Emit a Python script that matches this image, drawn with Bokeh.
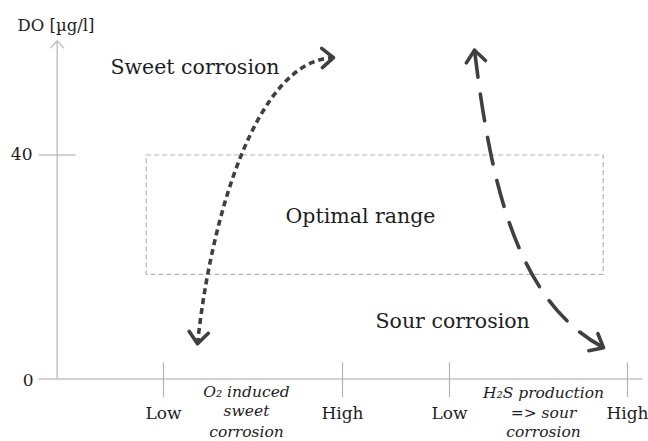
import math
from bokeh.plotting import figure
from bokeh.models import Range1d
from bokeh.core.properties import value
from bokeh.embed import file_html
from bokeh.resources import INLINE

# ---------------- data (diagram units: x = horizontal diagram units, y = DO in µg/l) ----------------
y_title = "DO [µg/l]"
y_ticks = [0, 40]
y_tick_labels = ["0", "40"]
y_axis_top = 60.4

x_ticks = [163, 342, 449, 627]
x_tick_labels = ["Low", "High", "Low", "High"]
x_axis_start = 38
x_axis_end = 642
y_axis_x = 56.7

optimal_x = [145.7, 602.7]
optimal_do = [18.7, 40]
optimal_label = "Optimal range"

# cubic Bezier curves: start, control 1, control 2, end
sweet_x = [197, 210, 255, 333]
sweet_do = [6.3, 28.3, 56.9, 57.4]
sweet_label = "Sweet corrosion"

sour_x = [474, 490, 515, 603]
sour_do = [58.7, 35.4, 14.0, 5.6]
sour_label = "Sour corrosion"

left_note = ["O₂ induced", "sweet", "corrosion"]
right_note = ["H₂S production", "=> sour", "corrosion"]

# ---------------- figure ----------------
W, H = 648, 441
X0, X1 = 0, 648
S = 5.6                      # px per DO unit
Y1 = 378.5 / S
Y0 = Y1 - H / S

p = figure(width=W, height=H, x_range=Range1d(X0, X1), y_range=Range1d(Y0, Y1),
           x_axis_type=None, y_axis_type=None, toolbar_location=None,
           output_backend="svg", min_border=0, outline_line_color=None,
           background_fill_color="white", border_fill_color="white")
p.grid.visible = False

SERIF = value("DejaVu Serif")
TXT = "#1e1e1e"
ARROW = "#404040"


def chevron(tip_x, tip_v, from_x, from_v, L, theta_deg):
    dx = tip_x - from_x
    dy = (tip_v - from_v) * S
    n = math.hypot(dx, dy)
    ux, uy = -dx / n, -dy / n
    pts = []
    for s in (1, -1):
        t = math.radians(theta_deg) * s
        ax = ux * math.cos(t) - uy * math.sin(t)
        ay = ux * math.sin(t) + uy * math.cos(t)
        pts.append((tip_x + L * ax, tip_v + L * ay / S))
    return [pts[0][0], tip_x, pts[1][0]], [pts[0][1], tip_v, pts[1][1]]


def lift(fs):
    # vertical correction (in DO units) for the text baseline placement
    return 0.4 * fs / S


# optimal range box
p.quad(left=[optimal_x[0]], right=[optimal_x[1]], bottom=[optimal_do[0]], top=[optimal_do[1]],
       fill_color=None, line_color="#b3b3b3", line_width=1.2, line_dash="5 3")

# axes
p.segment(x0=[x_axis_start], y0=[0], x1=[x_axis_end], y1=[0], line_color="#a6a6a6", line_width=1.2)
p.segment(x0=[y_axis_x], y0=[0], x1=[y_axis_x], y1=[y_axis_top], line_color="#c4c4c4", line_width=1.5)
cx, cy = chevron(y_axis_x, y_axis_top, y_axis_x, 0, 10, 42)
p.line(cx, cy, line_color="#c4c4c4", line_width=1.5)

# y tick at 40
tick_half = 18.5
p.segment(x0=[y_axis_x - tick_half], y0=[y_ticks[1]], x1=[y_axis_x + tick_half], y1=[y_ticks[1]],
          line_color="#a6a6a6", line_width=1.2)
p.text(x=[32, 33], y=[y_ticks[1] - 1.0 + lift(17), y_ticks[0] - 1.34 + lift(17)],
       text=[y_tick_labels[1], y_tick_labels[0]],
       text_align="right", text_baseline="alphabetic", text_font=SERIF,
       text_font_size="17px", text_color=TXT)
p.text(x=[17], y=[61.9 + lift(16.5)], text=[y_title], text_align="left", text_baseline="alphabetic",
       text_font=SERIF, text_font_size="16.5px", text_color=TXT)

# x ticks
p.segment(x0=x_ticks, y0=[2.95] * 4, x1=x_ticks, y1=[-3.2] * 4, line_color="#b3b3b3", line_width=1.2)
p.text(x=x_ticks, y=[-7.2 + lift(17)] * 4, text=x_tick_labels, text_align="center",
       text_baseline="alphabetic", text_font=SERIF, text_font_size="17px", text_color=TXT)

# notes under axis
p.text(x=[246] * 3, y=[b + lift(15.5) for b in (-3.48, -6.9, -10.6)], text=left_note,
       text_align="center", text_baseline="alphabetic", text_font=SERIF,
       text_font_style="italic", text_font_size="15.5px", text_color=TXT)
p.text(x=[543] * 3, y=[b + lift(15.5) for b in (-3.6, -7.1, -10.6)], text=right_note,
       text_align="center", text_baseline="alphabetic", text_font=SERIF,
       text_font_style="italic", text_font_size="15.5px", text_color=TXT)

# curves
p.bezier(x0=[sweet_x[0]], y0=[sweet_do[0]], cx0=[sweet_x[1]], cy0=[sweet_do[1]],
         cx1=[sweet_x[2]], cy1=[sweet_do[2]], x1=[sweet_x[3]], y1=[sweet_do[3]],
         line_color=ARROW, line_width=3.6, line_dash="6 4")
for tip, frm in ((0, 1), (3, 2)):
    cx, cy = chevron(sweet_x[tip], sweet_do[tip], sweet_x[frm], sweet_do[frm], 15, 40)
    p.line(cx, cy, line_color=ARROW, line_width=3.6, line_cap="round", line_join="round")

p.bezier(x0=[sour_x[0]], y0=[sour_do[0]], cx0=[sour_x[1]], cy0=[sour_do[1]],
         cx1=[sour_x[2]], cy1=[sour_do[2]], x1=[sour_x[3]], y1=[sour_do[3]],
         line_color=ARROW, line_width=3.6, line_dash="27 17", line_cap="round")
for tip, frm in ((0, 1), (3, 2)):
    cx, cy = chevron(sour_x[tip], sour_do[tip], sour_x[frm], sour_do[frm], 15, 40)
    p.line(cx, cy, line_color=ARROW, line_width=3.6, line_cap="round", line_join="round")

# big labels
p.text(x=[110], y=[54.2 + lift(20.5)], text=[sweet_label], text_align="left", text_baseline="alphabetic",
       text_font=SERIF, text_font_size="20.5px", text_color=TXT)
p.text(x=[360], y=[27.7 + lift(20.5)], text=[optimal_label], text_align="center", text_baseline="alphabetic",
       text_font=SERIF, text_font_size="20.5px", text_color=TXT)
p.text(x=[375], y=[8.84 + lift(20.5)], text=[sour_label], text_align="left", text_baseline="alphabetic",
       text_font=SERIF, text_font_size="20.5px", text_color=TXT)

open("out.html", "w").write(file_html(p, INLINE))
